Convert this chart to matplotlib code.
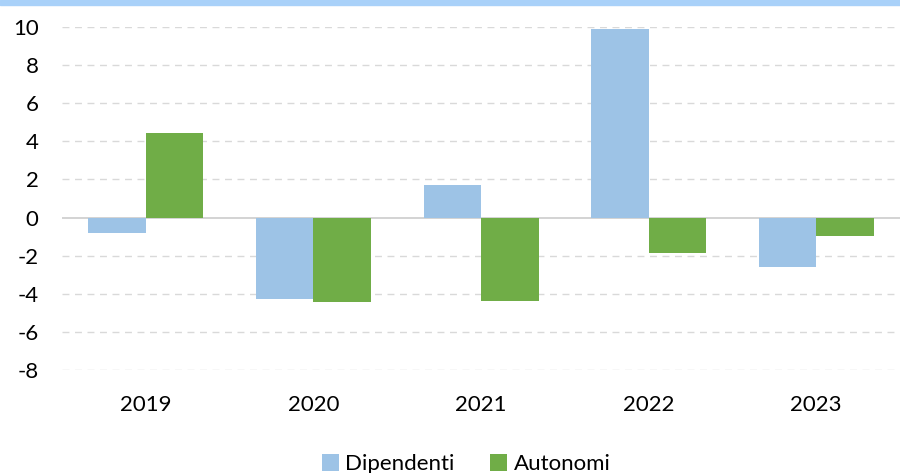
import matplotlib

matplotlib.use("Agg")
import matplotlib.pyplot as plt
import numpy as np

years = ["2019", "2020", "2021", "2022", "2023"]
dipendenti = [-0.8, -4.3, 1.7, 9.9, -2.6]
autonomi = [4.45, -4.45, -4.4, -1.85, -0.95]
y_ticks = [-8, -6, -4, -2, 0, 2, 4, 6, 8, 10]

BLUE = "#9dc3e6"
GREEN = "#70ad47"

plt.rcParams["font.family"] = ["Lato", "DejaVu Sans"]

fig = plt.figure(figsize=(9, 4.73), dpi=100)
ax = fig.add_axes([0.069, 0.2178, 0.931, 0.7252])

# thin coloured band along the top edge (clipped header)
fig.patches.append(plt.Rectangle((0, 0.989), 1, 0.011, transform=fig.transFigure,
                                 color="#a9d1f9", zorder=0))

x = np.arange(len(years))
w = 0.343
ax.bar(x - w / 2, dipendenti, w, color=BLUE, label="Dipendenti", zorder=3)
ax.bar(x + w / 2, autonomi, w, color=GREEN, label="Autonomi", zorder=3)

ax.set_xlim(-0.5, len(years) - 0.5)
ax.set_ylim(-8, 10)
ax.set_yticks(y_ticks)
ax.set_yticklabels([str(t) for t in y_ticks])
ax.set_xticks(x)
ax.set_xticklabels(years)
ax.tick_params(axis="both", length=0, labelsize=16, colors="#000000")
ax.tick_params(axis="x", pad=18)
ax.tick_params(axis="y", pad=17)

for t in y_ticks:
    if t != 0:
        ax.axhline(t, color="#d9d9d9", lw=1, ls=(0, (5, 4)), zorder=1)
ax.axhline(0, color="#d0d0d0", lw=1.3, zorder=2)

for s in ax.spines.values():
    s.set_visible(False)

fig.legend(loc="lower center", bbox_to_anchor=(0.518, -0.045), ncol=2, frameon=False,
           fontsize=16, handlelength=0.75, handleheight=0.75, handletextpad=0.3,
           columnspacing=1.6)

fig.savefig("out.png", dpi=100)
